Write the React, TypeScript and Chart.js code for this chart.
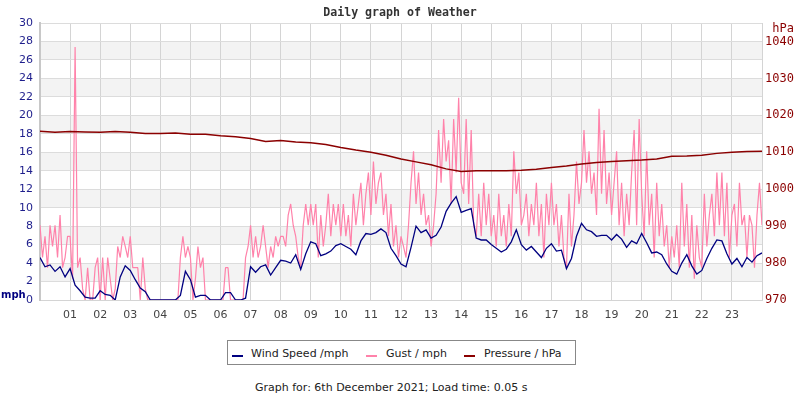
import React, { useEffect, useRef } from 'react';
import { Chart, registerables } from 'chart.js';

Chart.register(...registerables);

const chartTitle = 'Daily graph of Weather';
const footerText = 'Graph for: 6th December 2021; Load time: 0.05 s';
const hourLabels = ['01','02','03','04','05','06','07','08','09','10','11','12','13','14','15','16','17','18','19','20','21','22','23'];
const seriesNames = ['Wind Speed /mph', 'Gust / mph', 'Pressure / hPa'];

// Wind speed, one value every 10 minutes (00:00 .. 24:00)
const windStepHours = 1 / 6;
const windSpeed = [
  4.6, 3.6, 3.8, 3.1, 3.6, 2.5,
  3.4, 1.6, 1.0, 0.3, 0.2, 0.2,
  1.0, 0.6, 0.5, 0.0, 2.5, 3.7,
  3.2, 2.2, 1.3, 0.9, 0.0, 0.0,
  0.0, 0.0, 0.0, 0.0, 0.5, 3.1,
  2.2, 0.3, 0.5, 0.5, 0.0, 0.0,
  0.0, 0.8, 0.8, 0.0, 0.0, 0.2,
  3.6, 3.0, 3.6, 3.8, 2.7, 3.5,
  4.3, 4.2, 4.0, 4.9, 3.3, 5.0,
  6.3, 6.1, 4.8, 5.0, 5.3, 5.9,
  6.1, 5.8, 5.5, 4.9, 6.4, 7.2,
  7.1, 7.3, 7.7, 7.3, 5.6, 4.8,
  3.9, 3.6, 5.7, 8.0, 7.3, 7.6,
  6.7, 7.0, 7.9, 9.6, 10.5, 11.2,
  9.5, 9.7, 9.9, 6.7, 6.5, 6.5,
  6.0, 5.6, 5.2, 5.5, 6.3, 7.6,
  6.0, 5.4, 5.8, 5.2, 4.6, 5.6,
  6.1, 5.3, 5.4, 3.4, 4.5, 6.9,
  8.3, 7.6, 7.4, 6.9, 7.0, 7.0,
  6.5, 7.1, 6.6, 5.7, 6.4, 6.1,
  7.2, 6.2, 5.1, 5.2, 4.9, 3.9,
  3.1, 2.8, 4.0, 4.9, 3.7, 2.8,
  3.2, 4.5, 5.6, 6.5, 6.4, 5.0,
  3.9, 4.5, 3.6, 4.6, 4.1, 4.8,
  5.1,
];

// Gust, one value every 5 minutes (00:00 .. 24:00)
const gustStepHours = 1 / 12;
const gust = [
  8.1, 4.6, 6.9, 3.5, 8.1, 5.8, 8.1, 4.6, 9.2, 3.5, 4.6, 6.9,
  6.9, 2.3, 27.4, 3.5, 4.6, 1.2, 0, 3.5, 0, 0, 3.5, 4.6,
  0, 4.6, 0, 4.6, 2.3, 0, 1.2, 5.8, 4.6, 6.9, 5.8, 4.6,
  6.9, 3.5, 3.5, 3.5, 0, 4.6, 1.2, 0, 0, 0, 0, 0,
  0, 0, 0, 0, 0, 0, 0, 0, 4.6, 6.9, 4.6, 5.8,
  4.6, 0, 2.3, 5.8, 3.5, 4.6, 0, 0, 0, 0, 0, 0,
  0, 0, 3.5, 3.5, 0, 0, 0, 0, 0, 0, 4.6, 5.8,
  8.1, 4.6, 6.9, 4.6, 5.8, 8.1, 5.8, 3.5, 5.8, 4.6, 6.9, 5.8,
  6.9, 6.9, 5.8, 9.2, 10.4, 8.1, 6.9, 4.6, 3.5, 8.1, 10.4, 8.1,
  10.4, 8.1, 10.4, 4.6, 9.2, 5.8, 8.1, 11.5, 6.9, 10.4, 8.1, 10.4,
  6.9, 10.4, 6.9, 9.2, 5.8, 11.5, 8.1, 10.4, 12.7, 8.1, 11.5, 13.8,
  9.2, 15.0, 10.4, 12.7, 13.8, 9.2, 11.5, 6.9, 10.4, 5.8, 8.1, 4.6,
  6.9, 5.8, 4.6, 8.1, 12.7, 16.1, 10.4, 13.8, 9.2, 11.5, 8.1, 9.2,
  5.8, 8.1, 11.5, 18.4, 12.7, 19.6, 15.0, 17.3, 10.4, 19.6, 13.8, 21.9,
  12.7, 11.5, 19.6, 10.4, 18.4, 8.1, 6.9, 11.5, 6.9, 12.7, 8.1, 11.5,
  6.9, 9.2, 5.8, 11.5, 6.9, 9.2, 5.8, 10.4, 6.9, 16.1, 11.5, 13.8,
  8.1, 9.2, 11.5, 6.9, 10.4, 8.1, 12.7, 6.9, 10.4, 4.6, 11.5, 8.1,
  12.7, 8.1, 10.4, 5.8, 9.2, 4.6, 3.5, 11.5, 5.8, 9.2, 15.0, 10.4,
  12.7, 18.4, 12.7, 16.1, 11.5, 13.8, 9.2, 20.7, 11.5, 18.4, 10.4, 13.8,
  9.2, 12.7, 16.1, 8.1, 12.7, 6.9, 11.5, 8.1, 13.8, 18.4, 8.1, 19.6,
  11.5, 6.9, 16.1, 8.1, 11.5, 4.6, 12.7, 6.9, 10.4, 5.8, 8.1, 3.5,
  6.9, 4.6, 8.1, 3.5, 12.7, 5.8, 10.4, 3.5, 9.2, 2.3, 8.1, 4.6,
  3.5, 11.5, 5.8, 9.2, 11.5, 6.9, 13.8, 8.1, 13.8, 6.9, 12.7, 4.6,
  9.2, 10.4, 5.8, 12.7, 8.1, 9.2, 4.6, 9.2, 8.1, 3.5, 9.2, 12.7,
  8.1,
];

// Pressure, one value every 30 minutes (00:00 .. 24:00)
const pressureStepHours = 0.5;
const pressure = [
  1015.7, 1015.4, 1015.6, 1015.5, 1015.4, 1015.6, 1015.4, 1015.1,
  1015.1, 1015.2, 1014.9, 1014.9, 1014.5, 1014.2, 1013.7, 1012.9,
  1013.2, 1012.8, 1012.6, 1012.1, 1011.3, 1010.6, 1010.0, 1009.2,
  1008.2, 1007.4, 1006.6, 1005.5, 1004.8, 1005.0, 1005.0, 1005.0,
  1005.1, 1005.4, 1005.9, 1006.3, 1006.8, 1007.2, 1007.5, 1007.7,
  1007.9, 1008.2, 1008.9, 1009.0, 1009.2, 1009.7, 1010.0, 1010.2,
  1010.3,
];

const NAVY = '#000080';
const PINK = '#ff82aa';
const DARKRED = '#8b0000';
const LEFT_TICK = '#1e1e8c';

const decorPlugin = {
  id: 'decor',
  beforeDraw(chart: any) {
    const { ctx, chartArea: a, scales } = chart;
    const y = scales.y;
    ctx.save();
    ctx.fillStyle = '#f3f3f3';
    for (let v = 2; v < 30; v += 4) {
      const top = y.getPixelForValue(v + 2);
      const bot = y.getPixelForValue(v);
      ctx.fillRect(a.left, top, a.right - a.left, bot - top);
    }
    ctx.restore();
  },
  afterDraw(chart: any) {
    const { ctx } = chart;
    ctx.save();
    ctx.textBaseline = 'middle';
    ctx.fillStyle = '#333';
    ctx.font = 'bold 11.6px "DejaVu Sans Mono"';
    ctx.textAlign = 'center';
    ctx.fillText(chartTitle, 400, 13);
    ctx.fillStyle = NAVY;
    ctx.font = 'bold 10px "DejaVu Sans"';
    ctx.textAlign = 'left';
    ctx.fillText('mph', 1, 295);
    ctx.fillStyle = DARKRED;
    ctx.font = '12px "DejaVu Sans Mono"';
    ctx.textAlign = 'right';
    ctx.fillText('hPa', 794, 29);
    ctx.restore();
  },
};

export default function App() {
  const ref = useRef<HTMLCanvasElement>(null);

  useEffect(() => {
    if (!ref.current) return;
    Chart.defaults.font.family = '"DejaVu Sans"';
    const chart = new Chart(ref.current, {
      type: 'line',
      data: {
        datasets: [
          {
            label: seriesNames[0],
            data: windSpeed.map((v, i) => ({ x: i * windStepHours, y: v })),
            borderColor: NAVY,
            borderWidth: 1.3,
            pointRadius: 0,
            yAxisID: 'y',
            order: 2,
          },
          {
            label: seriesNames[1],
            data: gust.map((v, i) => ({ x: i * gustStepHours, y: v })),
            borderColor: PINK,
            borderWidth: 1.2,
            borderJoinStyle: 'bevel',
            pointRadius: 0,
            yAxisID: 'y',
            order: 3,
          },
          {
            label: seriesNames[2],
            data: pressure.map((v, i) => ({ x: i * pressureStepHours, y: v })),
            borderColor: DARKRED,
            borderWidth: 1.5,
            pointRadius: 0,
            yAxisID: 'y1',
            order: 1,
          },
        ],
      },
      options: {
        responsive: false,
        animation: false,
        events: [],
        layout: { padding: { top: 23, left: 0, right: 0, bottom: 0 } },
        plugins: {
          legend: { display: false },
          tooltip: { enabled: false },
          title: { display: false },
        },
        scales: {
          x: {
            type: 'linear',
            min: 0,
            max: 24,
            afterFit: (s: any) => { s.height = 30; },
            ticks: {
              stepSize: 1,
              autoSkip: false,
              maxRotation: 0,
              padding: 9,
              color: '#444',
              font: { family: '"DejaVu Sans"', size: 11 },
              callback: (v: any) => (v >= 1 && v <= 23 ? hourLabels[v - 1] : ''),
            },
            grid: { color: '#d4d4d4', drawTicks: false },
            border: { color: '#d4d4d4' },
          },
          y: {
            position: 'left',
            min: 0,
            max: 30,
            afterFit: (s: any) => { s.width = 40; },
            ticks: {
              stepSize: 2,
              padding: 7,
              color: LEFT_TICK,
              font: { family: '"DejaVu Sans"', size: 11 },
            },
            grid: { color: '#dcdcdc', drawTicks: false },
            border: { color: '#c8c8c8', width: 2 },
          },
          y1: {
            position: 'right',
            min: 970,
            max: 1045,
            afterFit: (s: any) => { s.width = 38; },
            ticks: {
              stepSize: 10,
              padding: 3,
              color: DARKRED,
              font: { family: '"DejaVu Sans Mono"', size: 12 },
              callback: (v: any) => (v % 10 === 0 ? String(v) : ''),
            },
            grid: { display: false, drawTicks: false },
            border: { display: false },
          },
        },
      },
      plugins: [decorPlugin],
    } as any);
    return () => chart.destroy();
  }, []);

  const legendText = { position: 'absolute' as const, top: 347, fontFamily: '"DejaVu Sans"', fontSize: 11, lineHeight: '13px', color: '#222', whiteSpace: 'nowrap' as const };
  const marker = (left: number, color: string) => ({ position: 'absolute' as const, left, top: 355, width: 11, height: 2, background: color });

  return (
    <div style={{ position: 'absolute', left: 0, top: 0, width: 800, height: 400, background: '#fff', overflow: 'hidden' }}>
      <canvas ref={ref} width={800} height={330} style={{ position: 'absolute', left: 0, top: 0, width: 800, height: 330 }} />
      <div style={{ position: 'absolute', left: 227, top: 340, width: 349, height: 25, border: '1px solid #888', boxSizing: 'border-box' }} />
      <div style={marker(232, NAVY)} />
      <div style={{ ...legendText, left: 251 }}>{seriesNames[0]}</div>
      <div style={marker(366, PINK)} />
      <div style={{ ...legendText, left: 386 }}>{seriesNames[1]}</div>
      <div style={marker(464, DARKRED)} />
      <div style={{ ...legendText, left: 484 }}>{seriesNames[2]}</div>
      <div style={{ position: 'absolute', left: 255, top: 381, fontFamily: '"DejaVu Sans"', fontSize: 11, lineHeight: '13px', color: '#222', whiteSpace: 'nowrap' }}>{footerText}</div>
    </div>
  );
}
